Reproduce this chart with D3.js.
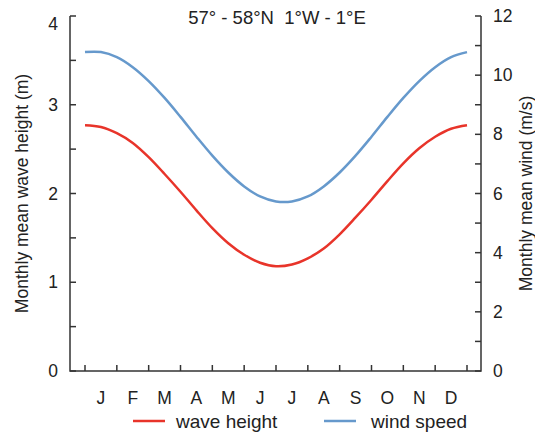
<!DOCTYPE html>
<html><head><meta charset="utf-8">
<script src="https://cdn.jsdelivr.net/npm/d3@7"></script>
<style>body{margin:0;background:#fff}text{font-family:"Liberation Sans",Arial,sans-serif;fill:#222;white-space:pre}</style>
</head><body><svg id="c" width="535" height="432"></svg>
<script>
const months = ["J","F","M","A","M","J","J","A","S","O","N","D"];
const times = [0,0.5,1,1.5,2,2.5,3,3.5,4,4.5,5,5.5,6,6.5,7,7.5,8,8.5,9,9.5,10,10.5,11,11.5,12];
const waveHeight = [2.77,2.75,2.68,2.57,2.41,2.22,2.02,1.81,1.61,1.44,1.31,1.22,1.18,1.20,1.27,1.38,1.54,1.73,1.93,2.14,2.34,2.51,2.64,2.73,2.77];
const windSpeed = [10.78,10.78,10.61,10.27,9.80,9.23,8.59,7.92,7.28,6.71,6.24,5.90,5.73,5.73,5.90,6.24,6.71,7.28,7.92,8.59,9.23,9.80,10.27,10.61,10.78];
const leftTicks = [0,1,2,3,4];
const rightTicks = [0,2,4,6,8,10,12];
const title = "57° - 58°N\u00a0\u00a01°W - 1°E";

const svg = d3.select("#c");
const L = 70, R = 481, T = 16, B = 371;
const x = d3.scaleLinear().domain([0,12]).range([85,467]);
const yL = d3.scaleLinear().domain([0,4]).range([B,T]);
const yR = d3.scaleLinear().domain([0,12]).range([B,T]);
const axisColor = "#333";

const g = svg.append("g").attr("stroke",axisColor).attr("stroke-width",1.5).attr("fill","none");
g.append("path").attr("d",`M${L},${T}V${B}H${R}V${T}`);
d3.range(0,4.01,0.5).forEach(v=>{
  g.append("line").attr("x1",L).attr("x2",L+6).attr("y1",yL(v)).attr("y2",yL(v));
});
d3.range(0,12.01,1).forEach(v=>{
  g.append("line").attr("x1",R).attr("x2",R-6).attr("y1",yR(v)).attr("y2",yR(v));
});
d3.range(0,13).forEach(v=>{
  g.append("line").attr("x1",x(v)).attr("x2",x(v)).attr("y1",B).attr("y2",B-6);
});
svg.selectAll(".lt").data(leftTicks).join("text").attr("x",L-12).attr("y",d=>d===4?yL(d)+8:yL(d)).attr("dy","0.35em")
  .attr("text-anchor","end").attr("font-size",17.5).text(d=>d);
svg.selectAll(".rt").data(rightTicks).join("text").attr("x",R+12).attr("y",d=>yR(d)).attr("dy","0.35em")
  .attr("text-anchor","start").attr("font-size",17.5).text(d=>d);
svg.selectAll(".mt").data(months).join("text").attr("x",(d,i)=>x(i+0.5)).attr("y",398).attr("dy","0.35em")
  .attr("text-anchor","middle").attr("font-size",17.5).text(d=>d);
svg.append("text").attr("transform",`translate(28,${(T+B)/2}) rotate(-90)`).attr("text-anchor","middle")
  .attr("font-size",17.5).text("Monthly mean wave height (m)");
svg.append("text").attr("transform",`translate(532,${(T+B)/2}) rotate(-90)`).attr("text-anchor","middle")
  .attr("font-size",17.5).text("Monthly mean wind (m/s)");
svg.append("text").attr("x",277).attr("y",18).attr("dy","0.35em").attr("text-anchor","middle").attr("font-size",18.5).text(title);

const red = "#e8342a", blue = "#6699cc";
const lw = d3.line().x((d,i)=>x(times[i])).y(d=>yL(d)).curve(d3.curveCatmullRom);
const lv = d3.line().x((d,i)=>x(times[i])).y(d=>yR(d)).curve(d3.curveCatmullRom);
svg.append("path").attr("d",lv(windSpeed)).attr("fill","none").attr("stroke",blue).attr("stroke-width",2.5);
svg.append("path").attr("d",lw(waveHeight)).attr("fill","none").attr("stroke",red).attr("stroke-width",2.5);

const lg = [{name:"wave height",c:red,x:133,gap:43},{name:"wind speed",c:blue,x:324,gap:47}];
lg.forEach(d=>{
  svg.append("line").attr("x1",d.x).attr("x2",d.x+32).attr("y1",421).attr("y2",421).attr("stroke",d.c).attr("stroke-width",2.5);
  svg.append("text").attr("x",d.x+d.gap).attr("y",421).attr("dy","0.35em").attr("font-size",19).text(d.name);
});
</script></body></html>
